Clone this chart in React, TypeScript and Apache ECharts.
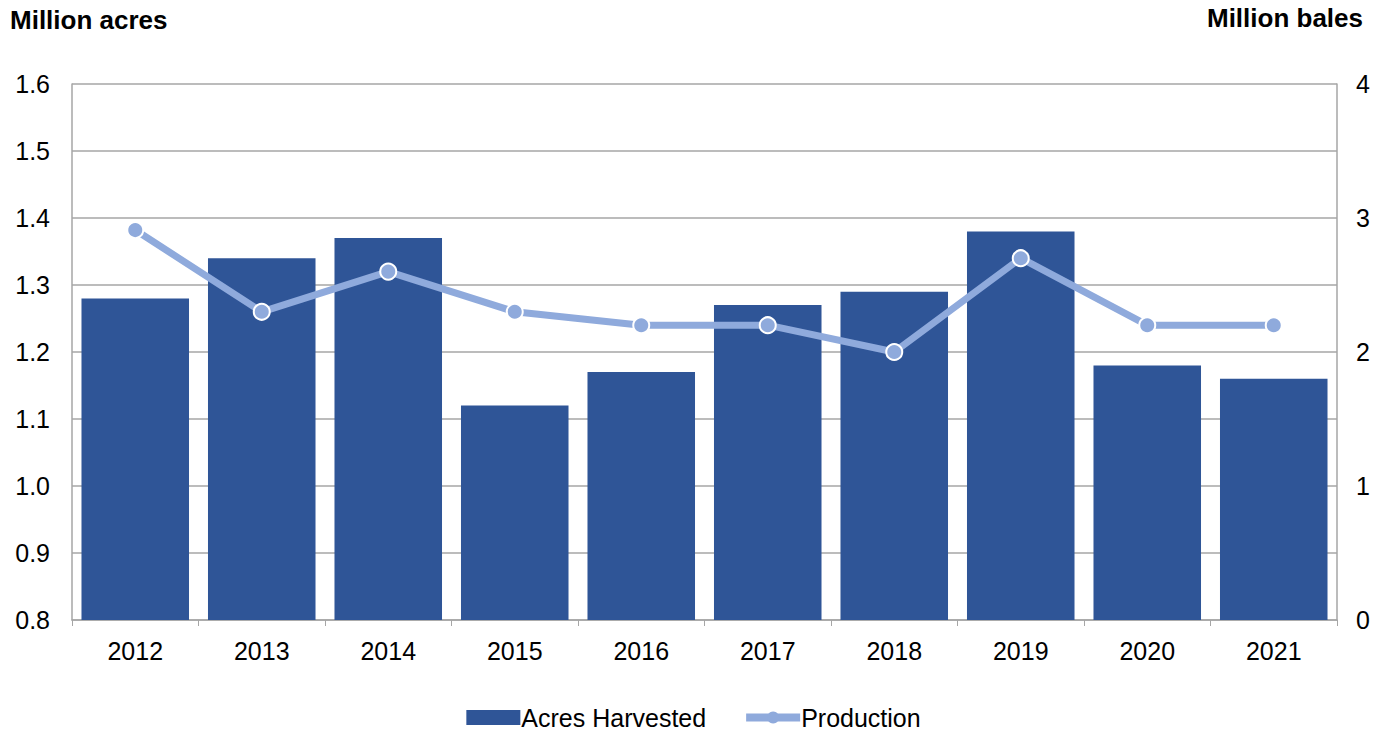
import React, { useEffect, useRef } from "react";
import * as echarts from "echarts";

const years = ["2012", "2013", "2014", "2015", "2016", "2017", "2018", "2019", "2020", "2021"];
const acresHarvested = [1.28, 1.34, 1.37, 1.12, 1.17, 1.27, 1.29, 1.38, 1.18, 1.16];
const production = [2.91, 2.3, 2.6, 2.3, 2.2, 2.2, 2.0, 2.7, 2.2, 2.2];

export default function App() {
  const ref = useRef<HTMLDivElement>(null);
  useEffect(() => {
    if (!ref.current) return;
    const chart = echarts.init(ref.current, null, { renderer: "svg" });
    const font = "Arial, 'Liberation Sans', sans-serif";
    chart.setOption({
      animation: false,
      textStyle: { fontFamily: font },
      grid: { left: 72, right: 50, top: 84, bottom: 114 },
      graphic: [
        { type: "text", left: 10, top: 7, style: { text: "Million acres", font: `bold 26px ${font}`, fill: "#000" } },
        { type: "text", right: 24, top: 5, style: { text: "Million bales", font: `bold 26px ${font}`, fill: "#000" } },
      ],
      legend: {
        top: 700,
        left: "center",
        itemGap: 36,
        textStyle: { fontSize: 25, color: "#000", fontFamily: font, padding: [0, 0, 0, -4] },
        data: [
          { name: "Acres Harvested", icon: "rect" },
          {
            name: "Production",
            lineStyle: { width: 8, color: "#8FAADC" },
            itemStyle: { color: "#8FAADC", borderWidth: 0 },
          },
        ],
        itemWidth: 54,
        itemHeight: 15,
      },
      xAxis: {
        type: "category",
        data: years,
        axisLine: { lineStyle: { color: "#A6A6A6", width: 1.5 } },
        axisTick: { show: true, length: 6, lineStyle: { color: "#A6A6A6" } },
        axisLabel: { fontSize: 25, color: "#000", margin: 18, fontFamily: font },
      },
      yAxis: [
        {
          type: "value",
          min: 0.8,
          max: 1.6,
          interval: 0.1,
          axisLine: { show: true, lineStyle: { color: "#A6A6A6", width: 1.5 } },
          axisTick: { show: false },
          splitLine: { lineStyle: { color: "#A6A6A6", width: 1.5 } },
          axisLabel: { fontSize: 25, color: "#000", margin: 22, formatter: (v: number) => v.toFixed(1), fontFamily: font },
        },
        {
          type: "value",
          min: 0,
          max: 4,
          interval: 1,
          position: "right",
          axisLine: { show: true, lineStyle: { color: "#A6A6A6", width: 1.5 } },
          axisTick: { show: false },
          splitLine: { show: false },
          axisLabel: { fontSize: 25, color: "#000", margin: 19, fontFamily: font },
        },
      ],
      series: [
        {
          name: "Acres Harvested",
          type: "bar",
          data: acresHarvested,
          barCategoryGap: "15%",
          itemStyle: { color: "#2F5597" },
        },
        {
          name: "Production",
          type: "line",
          yAxisIndex: 1,
          data: production,
          symbol: "circle",
          symbolSize: 16,
          lineStyle: { color: "#8FAADC", width: 7 },
          itemStyle: { color: "#8FAADC", borderColor: "#fff", borderWidth: 2 },
        },
      ],
    });
    return () => chart.dispose();
  }, []);
  return (
    <div
      ref={ref}
      style={{ position: "absolute", left: 0, top: 0, width: 1387, height: 734 }}
    />
  );
}
